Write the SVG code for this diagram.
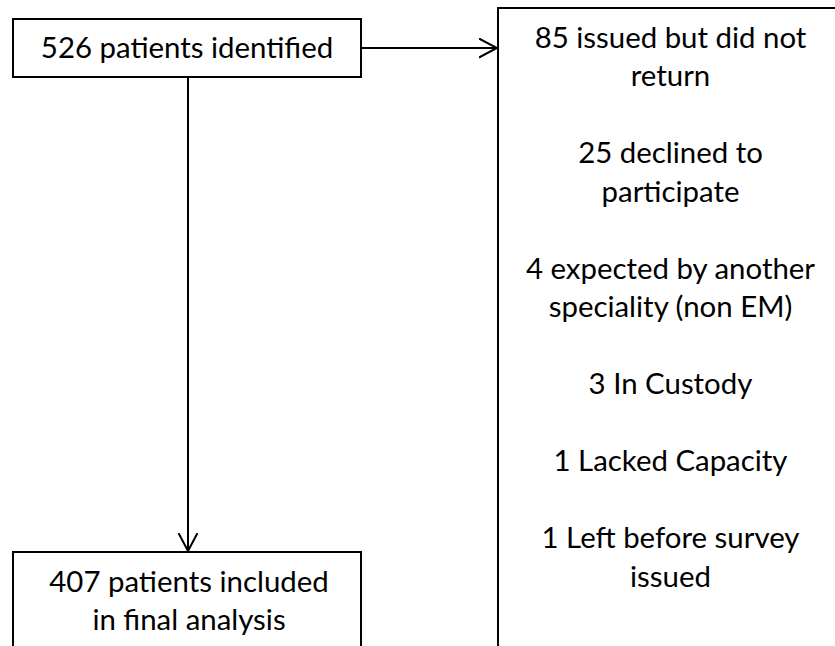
<svg xmlns="http://www.w3.org/2000/svg" width="835" height="646" viewBox="0 0 835 646">
<defs>
<style>
.box{fill:#fff;stroke:#000;stroke-width:2}
.t{font-family:Lato,"Liberation Sans",sans-serif;font-size:29.4px;fill:#000;text-anchor:middle}
.c{stroke:#000;stroke-width:2;fill:none}
</style>
<marker id="arr" markerWidth="20" markerHeight="22" refX="18" refY="10" orient="auto" markerUnits="userSpaceOnUse" viewBox="0 0 20 22">
<path d="M0,0.5 L18,10 L0,19.5" fill="none" stroke="#000" stroke-width="2"/>
</marker>
</defs>
<rect width="835" height="646" fill="#fff"/>
<g id="connectors">
<line class="c" x1="361" y1="48" x2="497" y2="48" marker-end="url(#arr)"/>
<line class="c" x1="188" y1="77" x2="188" y2="551" marker-end="url(#arr)"/>
</g>
<g id="identified">
<rect class="box" x="13" y="19" width="348" height="58"/>
<text class="t" x="187" y="58">526 patients identified</text>
</g>
<g id="excluded">
<rect class="box" x="498" y="8" width="350" height="650"/>
<text class="t" x="670.5" y="47.5">85 issued but did not</text>
<text class="t" x="670.5" y="86">return</text>
<text class="t" x="670.5" y="163">25 declined to</text>
<text class="t" x="670.5" y="201.5">participate</text>
<text class="t" x="670.5" y="278.5">4 expected by another</text>
<text class="t" x="670.5" y="317">speciality (non EM)</text>
<text class="t" x="670.5" y="394">3 In Custody</text>
<text class="t" x="670.5" y="471">1 Lacked Capacity</text>
<text class="t" x="670.5" y="548">1 Left before survey</text>
<text class="t" x="670.5" y="586.5">issued</text>
</g>
<g id="included">
<rect class="box" x="13" y="552" width="348" height="110"/>
<text class="t" x="189" y="592">407 patients included</text>
<text class="t" x="189" y="630">in final analysis</text>
</g>
</svg>
